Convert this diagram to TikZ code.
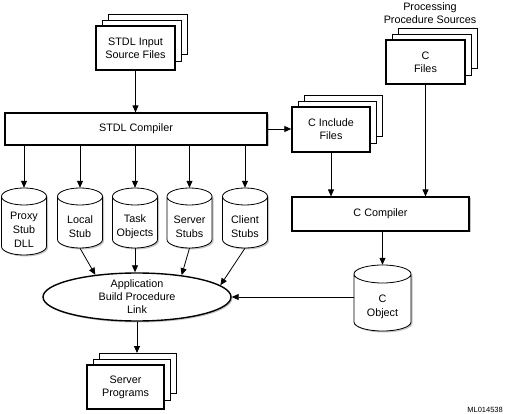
\documentclass[tikz,border=0pt]{standalone}
\usepackage{fontspec}
\setmainfont{Liberation Sans}
\usetikzlibrary{arrows.meta,shapes.geometric,shadows}

\tikzset{
  every node/.style={font=\fontsize{10.8}{13}\selectfont, align=center, inner sep=0pt},
  arr/.style={line width=0.8pt, -{Triangle[length=7pt,width=6pt]}},
  frontbox/.style={draw, fill=white, line width=1.4pt},
  pagebox/.style={draw, fill=white, line width=0.8pt},
  shadowed/.style={drop shadow={shadow xshift=1.5pt, shadow yshift=-1.5pt, fill=gray!45, opacity=1}},
  compbox/.style={draw, fill=white, line width=1.2pt, shadowed},
  cylline/.style={line width=0.8pt},
  cylshadow/.style={fill=gray!45},
  cyltext/.style={font=\fontsize{10.8}{14.2}\selectfont},
  appell/.style={ellipse, draw, fill=white, line width=1.4pt, shadowed},
  tag/.style={font=\fontsize{7.5}{9}\selectfont}
}

% stack of document pages: name, x1, y1, x2, y2, text
\newcommand\docstack[6]{%
  \draw[pagebox] ({#2+12},{#3-12}) rectangle ({#4+12},{#5-16});
  \draw[pagebox] ({#2+6},{#3-6}) rectangle ({#4+6},{#5-9});
  \node[frontbox, minimum width={(#4-#2)*1pt}, minimum height={(#5-#3)*1pt}]
    (#1) at ({(#2+#4)/2},{(#3+#5)/2}) {#6};
  \coordinate (#1-top) at ({(#2+#4)/2},{#3-12});
}

% cylinder: name, cx, top, bottom, half width, ry, text
\newcommand\cyl[7]{%
  \node[minimum width={2*#5*1pt}, minimum height={(#4-#3)*1pt}] (#1) at (#2,{(#3+#4)/2}) {};
  \fill[cylshadow, xshift=1.5pt, yshift=-1.5pt]
    ({#2-#5},{#3+#6}) -- ({#2-#5},{#4-#6})
    arc[start angle=180, end angle=360, x radius=#5pt, y radius=#6pt]
    -- ({#2+#5},{#3+#6})
    arc[start angle=0, end angle=180, x radius=#5pt, y radius=#6pt] -- cycle;
  \fill[white]
    ({#2-#5},{#3+#6}) -- ({#2-#5},{#4-#6})
    arc[start angle=180, end angle=360, x radius=#5pt, y radius=#6pt]
    -- ({#2+#5},{#3+#6})
    arc[start angle=0, end angle=180, x radius=#5pt, y radius=#6pt] -- cycle;
  \draw[cylline]
    ({#2-#5},{#3+#6}) -- ({#2-#5},{#4-#6})
    arc[start angle=180, end angle=360, x radius=#5pt, y radius=#6pt]
    -- ({#2+#5},{#3+#6})
    arc[start angle=0, end angle=180, x radius=#5pt, y radius=#6pt]
    arc[start angle=180, end angle=360, x radius=#5pt, y radius=#6pt];
  \node[cyltext] (#1-t) at (#2,{(#3+2*#6+#4)/2}) {#7};
}

\begin{document}
\begin{tikzpicture}[x=1pt, y=-1pt]
  \useasboundingbox (0,0) rectangle (506,414);

  % document stacks
  \docstack{sin}{96}{26}{175}{70}{STDL Input\\Source Files}
  \docstack{cinc}{292}{107}{370}{152}{C Include\\Files}
  \docstack{cfiles}{386}{40}{465}{84}{C\\Files}
  \docstack{srv}{87}{365}{164}{409}{Server\\Programs}

  \node (procsrc) at (430,13) {Processing\\Procedure Sources};

  % compilers
  \node[compbox, minimum width=262pt, minimum height=32pt] (stdl) at (136,129) {STDL Compiler};
  \node[compbox, minimum width=177pt, minimum height=34pt] (ccomp) at (380.5,214) {C Compiler};

  % cylinders
  \cyl{proxy}{24}{188}{255}{22.5}{8.5}{Proxy\\Stub\\DLL}
  \cyl{local}{80}{188}{248}{22.5}{8.5}{Local\\Stub}
  \cyl{task}{135}{188}{248}{22.5}{8.5}{Task\\Objects}
  \cyl{sstub}{189.5}{188}{248}{22.5}{8.5}{Server\\Stubs}
  \cyl{cstub}{245}{188}{248}{22.5}{8.5}{Client\\Stubs}
  \cyl{cobj}{382.5}{265}{331}{28.5}{9}{C\\Object}

  % application build ellipse
  \node[appell, minimum width=188pt, minimum height=48pt] (app) at (137,297) {};
  \node (app-t) at (137,297) {Application\\Build Procedure\\Link};

  \node[tag, anchor=east] (ml) at (503,410) {ML014538};

  % connectors
  \draw[arr] (sin.south) -- (sin.south |- stdl.north);
  \draw[arr] (stdl.east) -- (cinc.west |- stdl.east);
  \foreach \c in {proxy,local,task,sstub,cstub}
    \draw[arr] (stdl.south -| \c.north) -- (\c.north);
  \draw[arr] (cinc.south) -- (cinc.south |- ccomp.north);
  \draw[arr] (cfiles.south) -- (cfiles.south |- ccomp.north);
  \draw[arr] (ccomp.south -| cobj.north) -- (cobj.north);
  \draw[arr] (local.south) -- (app.152);
  \draw[arr] (task.south) -- (task.south |- app.north);
  \draw[arr] (sstub.south) -- (app.26);
  \draw[arr] (cstub.south) -- (app.8);
  \draw[arr] (app.east -| cobj.west) -- (app.east);
  \draw[arr] (app.south) -- (app.south |- srv-top);
\end{tikzpicture}
\end{document}
